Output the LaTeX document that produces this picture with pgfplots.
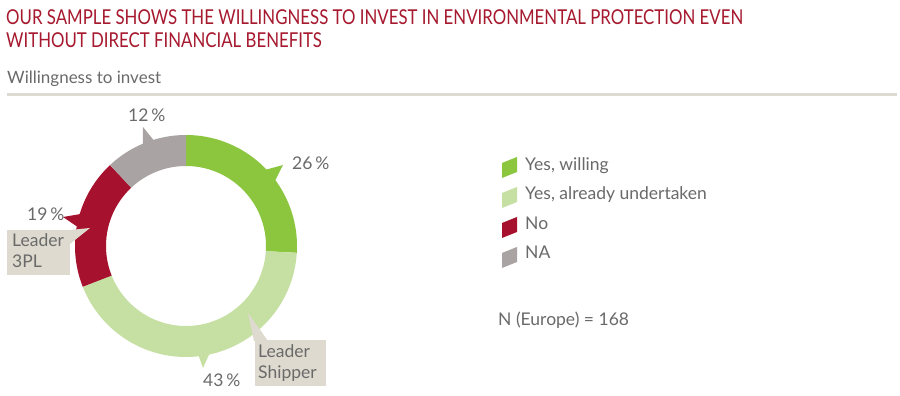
\documentclass[border=0pt]{standalone}
\usepackage{pgfplots}
\pgfplotsset{compat=1.18}
\usepackage{fontspec}
\setmainfont{Lato}
\newfontfamily\titlefont[FakeStretch=0.82]{Lato}
\definecolor{cGreen}{HTML}{8CC63F}
\definecolor{cLight}{HTML}{C6E0A3}
\definecolor{cRed}{HTML}{A6122E}
\definecolor{cGray}{HTML}{A9A3A3}
\definecolor{cTitle}{HTML}{A6192E}
\definecolor{cText}{HTML}{6A6A6A}
\definecolor{cBox}{HTML}{DEDACF}
\definecolor{cRule}{HTML}{DCDBD2}
% shares (percent)
\def\vA{26}\def\vB{43}\def\vC{19}\def\vD{12}
\pgfmathsetmacro\aA{90}
\pgfmathsetmacro\aB{\aA-3.6*\vA}
\pgfmathsetmacro\aC{\aB-3.6*\vB}
\pgfmathsetmacro\aD{\aC-3.6*\vC}
\pgfmathsetmacro\aE{\aD-3.6*\vD}
\newcommand\px[2]{(#1,{396-(#2)})}
\begin{document}
\begin{tikzpicture}[x=1pt,y=1pt]
\useasboundingbox[fill=white] (0,0) rectangle (900,396);
% titles
\node[anchor=base west,inner sep=0,text=cTitle,font=\titlefont\fontsize{20.5}{23}\selectfont] at \px{6}{25} {OUR SAMPLE SHOWS THE WILLINGNESS TO INVEST IN ENVIRONMENTAL PROTECTION EVEN};
\node[anchor=base west,inner sep=0,text=cTitle,font=\titlefont\fontsize{20.5}{23}\selectfont] at \px{6}{48} {WITHOUT DIRECT FINANCIAL BENEFITS};
\node[anchor=base west,inner sep=0,text=cText,font=\fontsize{17}{20}\selectfont] at \px{7}{84} {Willingness to invest};
\fill[cRule] \px{7}{93} rectangle \px{897}{96};
\begin{axis}[hide axis, scale only axis, x=1pt, y=1pt,
  xmin=-120, xmax=120, ymin=-120, ymax=120,
  at={(186,150)}, anchor=center, clip=false]
\addplot[draw=cGreen, line width=31pt, domain=\aB:\aA, samples=80] ({95.5*cos(x)},{95.5*sin(x)});
\addplot[draw=cLight, line width=31pt, domain=\aC:\aB, samples=120] ({95.5*cos(x)},{95.5*sin(x)});
\addplot[draw=cRed, line width=31pt, domain=\aD:\aC, samples=80] ({95.5*cos(x)},{95.5*sin(x)});
\addplot[draw=cGray, line width=31pt, domain=\aE:\aD, samples=60] ({95.5*cos(x)},{95.5*sin(x)});
% callout tails
\fill[cGreen] (axis cs:{106*cos(35)},{106*sin(35)}) -- (axis cs:97,81) -- (axis cs:{106*cos(45)},{106*sin(45)}) -- cycle;
\fill[cGray] (axis cs:{106*cos(106)},{106*sin(106)}) -- (axis cs:-43,119) -- (axis cs:{106*cos(114)},{106*sin(114)}) -- cycle;
\fill[cRed] (axis cs:{106*cos(162)},{106*sin(162)}) -- (axis cs:-123,29) -- (axis cs:{106*cos(171)},{106*sin(171)}) -- cycle;
\fill[cLight] (axis cs:{106*cos(-84)},{106*sin(-84)}) -- (axis cs:17,-122) -- (axis cs:{106*cos(-76)},{106*sin(-76)}) -- cycle;
\end{axis}
% boxes
\fill[cBox] \px{7}{230} rectangle \px{70}{275};
\fill[cBox] \px{60}{231} -- \px{90}{228} -- \px{70}{244} -- cycle;
\fill[cBox] \px{255}{340} rectangle \px{326}{386};
\fill[cBox] \px{254}{341} -- \px{248}{313} -- \px{268}{341} -- cycle;
\begin{scope}[every node/.style={anchor=base west,inner sep=0,text=cText,font=\fontsize{17.5}{20}\selectfont}]
\node at \px{12}{247} {Leader};
\node at \px{12}{268} {3PL};
\node at \px{258}{358} {Leader};
\node at \px{258}{379} {Shipper};
\node at \px{292}{170} {26\,\%};
\node at \px{128}{122} {12\,\%};
\node at \px{27}{221} {19\,\%};
\node at \px{203}{387} {43\,\%};
% legend
\node at \px{525}{171} {Yes, willing};
\node at \px{525}{200} {Yes, already undertaken};
\node at \px{525}{230} {No};
\node at \px{525}{259} {NA};
\node at \px{498}{326} {N (Europe) = 168};
\end{scope}
\foreach \c/\d in {cGreen/0, cLight/30, cRed/60, cGray/90}{
  \fill[\c] \px{502}{163+\d} -- \px{517}{157+\d} -- \px{517}{172+\d} -- \px{502}{178+\d} -- cycle;
}
\end{tikzpicture}
\end{document}
